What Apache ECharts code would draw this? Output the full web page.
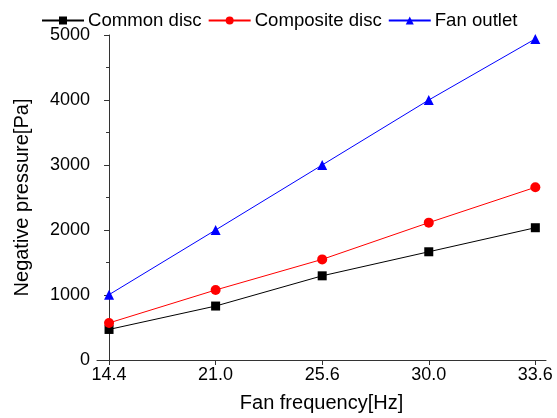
<!DOCTYPE html>
<html><head><meta charset="utf-8">
<script src="https://cdn.jsdelivr.net/npm/echarts@6/dist/echarts.min.js"></script>
<style>html,body{margin:0;padding:0;background:#fff}#c{width:557px;height:418px}</style>
</head><body><div id="c"></div>
<script>
var categories = ['14.4', '21.0', '25.6', '30.0', '33.6'];
var commonDisc = [470, 830, 1295, 1665, 2035];
var compositeDisc = [570, 1077, 1548, 2113, 2657];
var fanOutlet = [1005, 2000, 3000, 4000, 4940];
var yTicks = [0, 1000, 2000, 3000, 4000, 5000];

function pts(arr){ return arr.map(function(v,i){ return [i, v]; }); }
var FONT = 'Liberation Sans';
var chart = echarts.init(document.getElementById('c'));
chart.setOption({
  animation: false,
  backgroundColor: '#fff',
  legend: {
    top: 6, left: 36, itemWidth: 42, itemHeight: 10, itemGap: 6,
    textStyle: {fontFamily: FONT, fontSize: 18.6, color: '#000', padding: [0,0,0,-1]},
    data: ['Common disc', 'Composite disc', 'Fan outlet']
  },
  grid: {left: 97, right: 11, top: 35, bottom: 58, containLabel: false},
  xAxis: {
    type: 'value', min: -0.113, max: 4.1,
    name: 'Fan frequency[Hz]', nameLocation: 'middle', nameGap: 33,
    nameTextStyle: {fontFamily: FONT, fontSize: 20, color: '#000'},
    axisLine: {show: true, onZero: false, lineStyle: {color: '#333', width: 1}},
    axisTick: {show: true, inside: false, length: 5, customValues: [0,1,2,3,4], lineStyle: {color: '#333'}},
    axisLabel: {customValues: [0,1,2,3,4], formatter: function(v){ return categories[Math.round(v)]; },
      fontFamily: FONT, fontSize: 18, color: '#000', margin: 6},
    splitLine: {show: false}
  },
  yAxis: {
    type: 'value', min: 0, max: 5000, interval: 1000,
    name: 'Negative pressure[Pa]', nameLocation: 'middle', nameGap: 65,
    nameTextStyle: {fontFamily: FONT, fontSize: 20, color: '#000'},
    axisLine: {show: true, lineStyle: {color: '#333', width: 1}},
    axisTick: {show: true, inside: false, length: 5, lineStyle: {color: '#333'}},
    minorTick: {show: true, splitNumber: 2, length: 3, lineStyle: {color: '#333'}},
    axisLabel: {formatter: function(v){ return yTicks.indexOf(v) >= 0 ? String(v) : ''; },
      fontFamily: FONT, fontSize: 18, color: '#000', margin: 7},
    splitLine: {show: false}
  },
  series: [
    {name: 'Common disc', type: 'line', data: pts(commonDisc), symbol: 'rect', symbolSize: 9,
      itemStyle: {color: '#000'}, lineStyle: {color: '#000', width: 1}},
    {name: 'Composite disc', type: 'line', data: pts(compositeDisc), symbol: 'circle', symbolSize: 10,
      itemStyle: {color: '#ff0000'}, lineStyle: {color: '#ff0000', width: 1}},
    {name: 'Fan outlet', type: 'line', data: pts(fanOutlet), symbol: 'triangle', symbolSize: 10,
      itemStyle: {color: '#0000ff'}, lineStyle: {color: '#0000ff', width: 1}}
  ]
});
</script></body></html>
